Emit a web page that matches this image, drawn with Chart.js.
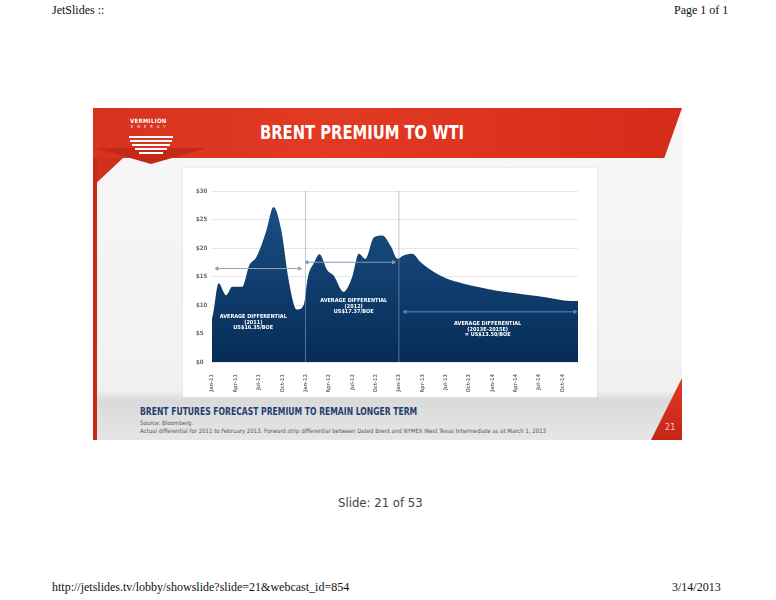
<!DOCTYPE html>
<html>
<head>
<meta charset="utf-8">
<title>Brent premium to WTI</title>
<script src="https://cdn.jsdelivr.net/npm/chart.js@4.4.1/dist/chart.umd.min.js"></script>
<style>
  body { margin: 0; width: 776px; height: 600px; background: #fff; position: relative; overflow: hidden; }
  .abs { position: absolute; }
  .page { font-family: "Liberation Serif", "DejaVu Serif", serif; font-size: 12px; color: #111; white-space: nowrap; }
  .slide { left: 93px; top: 108px; width: 589px; height: 332px; overflow: hidden;
           background: linear-gradient(#f7f7f7 0%, #f1f1f1 85%, #dadada 88%, #e6e6e6 100%); }
  .narrow { font-family: "Liberation Sans Narrow", "DejaVu Sans Condensed", "Open Sans", sans-serif; white-space: nowrap; transform-origin: 0 0; }
  #chartWrap { left: 190px; top: 180px; }
</style>
</head>
<body>

<div class="abs page" style="left:52px; top:3px;">JetSlides ::</div>
<div class="abs page" style="left:674px; top:3px;">Page 1 of 1</div>

<div class="abs slide">
  <!-- red header band with slanted right edge -->
  <div class="abs" style="left:0; top:0; width:589px; height:50px; background:linear-gradient(90deg,#d8321f,#e23a22 40%,#d52c1a); clip-path:polygon(0 0,100% 0,97% 100%,0 100%);"></div>
  <!-- left red strip and corner -->
  <div class="abs" style="left:0; top:50px; width:30px; height:24px; background:#d0301d; clip-path:polygon(0 0,100% 0,15% 100%,0 100%);"></div>
  <div class="abs" style="left:0; top:50px; width:4px; height:282px; background:#c52a19;"></div>
  <!-- chevron -->
  <div class="abs" style="left:2px; top:40px; width:112px; height:16px; background:#c22a18; clip-path:polygon(0 0,100% 0,50% 100%);"></div>
  <div class="abs" style="left:36px; top:28px; width:44px; height:2px; background:#fff;"></div>
  <div class="abs" style="left:37px; top:32px; width:42px; height:2px; background:#fff;"></div>
  <div class="abs" style="left:39px; top:36px; width:38px; height:2px; background:#fff;"></div>
  <div class="abs" style="left:42px; top:40px; width:32px; height:2px; background:#fff;"></div>
  <div class="abs" style="left:46px; top:44px; width:24px; height:2px; background:#fff;"></div>
  <div class="abs narrow" style="left:37px; top:9px; font-size:6px; color:#fff; letter-spacing:0.3px; font-weight:bold;">VERMILION</div>
  <div class="abs narrow" style="left:38px; top:16px; font-size:4px; color:#fff; letter-spacing:4px;">ENERGY</div>
  <div class="abs narrow" style="left:167px; top:12px; font-size:20px; color:#fff; font-weight:bold; transform:scaleX(0.82);">BRENT PREMIUM TO WTI</div>

  <!-- chart panel -->
  <div class="abs" style="left:90px; top:60px; width:414px; height:229px; background:#fff; box-shadow:0 0 2px #ddd;"></div>

  <!-- footer -->
  <div class="abs narrow" style="left:47px; top:298px; font-size:10px; color:#1d3f72; font-weight:bold; transform:scaleX(0.85);">BRENT FUTURES FORECAST PREMIUM TO REMAIN LONGER TERM</div>
  <div class="abs narrow" style="left:47px; top:311px; font-size:6px; color:#555;">Source: Bloomberg.</div>
  <div class="abs narrow" style="left:47px; top:319px; font-size:6px; color:#555;">Actual differential for 2011 to February 2013. Forward strip differential between Dated Brent and NYMEX West Texas Intermediate as at March 1, 2013</div>
  <div class="abs" style="left:558px; top:270px; width:31px; height:62px; background:linear-gradient(#e03a22,#c42616); clip-path:polygon(100% 0,100% 100%,0 100%);"></div>
  <div class="abs narrow" style="left:572px; top:314px; font-size:9px; color:#f6c9c0;">21</div>
</div>

<div id="chartWrap" class="abs"><canvas id="premiumChart" width="410" height="212"></canvas></div>

<div class="abs narrow" style="left:338px; top:495px; font-size:13px; color:#444;">Slide: 21 of 53</div>
<div class="abs page" style="left:52px; top:580px;">http://jetslides.tv/lobby/showslide?slide=21&amp;webcast_id=854</div>
<div class="abs page" style="left:672px; top:580px;">3/14/2013</div>

<script>
// Brent - WTI differential (US$/bbl), months since Jan 2011
const monthIdx = [0, 0.15, 0.85, 1.8, 2.6, 3.9, 4.8, 5.6, 6.1, 7.0, 7.9, 8.9, 9.85, 10.9, 11.8, 12.3, 13.1, 13.8, 14.8, 15.6, 16.9, 18.0, 18.85, 19.7, 20.8, 21.9, 23.0, 23.8, 24.6, 25.7, 26.8, 28.5, 30.2, 32.3, 34.5, 36.6, 38.8, 40.9, 43.0, 45.2, 47];
const premium  = [7.6, 8.5, 13.8, 11.7, 13.2, 13.2, 17.0, 18.2, 19.6, 23.1, 27.2, 23.1, 14.3, 9.2, 10.1, 14.8, 17.4, 18.9, 16.1, 15.2, 12.3, 14.9, 19.0, 18.1, 21.9, 22.2, 20.2, 18.1, 18.7, 19.0, 17.5, 15.8, 14.6, 13.75, 13.05, 12.5, 12.1, 11.7, 11.3, 10.8, 10.7];

const quarterLabels = ['Jan-11','Apr-11','Jul-11','Oct-11','Jan-12','Apr-12','Jul-12','Oct-12',
                       'Jan-13','Apr-13','Jul-13','Oct-13','Jan-14','Apr-14','Jul-14','Oct-14'];
const yTicks = [0, 5, 10, 15, 20, 25, 30];

// average differential markers
const avg2011 = [16.4, 16.4];
const avg2011X = [0.65, 11.25];
const avg2012 = [17.5, 17.5];
const avg2012X = [12.2, 23.3];
const avgFwd = [8.8, 8.8];
const avgFwdX = [24.8, 46.6];
const yearSplits = [12, 24];

const notes = [
  { x: 5.3,  y: 7.9,  lines: ['AVERAGE DIFFERENTIAL', '(2011)', 'US$16.35/BOE'] },
  { x: 18.2, y: 10.7, lines: ['AVERAGE DIFFERENTIAL', '(2012)', 'US$17.37/BOE'] },
  { x: 35.4, y: 6.7,  lines: ['AVERAGE DIFFERENTIAL', '(2013E-2015E)', '= US$13.50/BOE'] }
];

const fontNarrow = "'Liberation Sans Narrow', 'DejaVu Sans Condensed', 'Open Sans', sans-serif";

const toPts = (xs, ys) => xs.map((x, i) => ({ x: x, y: ys[i] }));

const arrowSet = (xs, ys, color) => ({
  type: 'line',
  data: toPts(xs, ys),
  borderColor: color,
  backgroundColor: color,
  borderWidth: 1,
  pointStyle: 'triangle',
  pointRadius: 2,
  pointRotation: [-90, 90],
  order: 0
});

const splitSet = (x) => ({
  type: 'line',
  data: [{ x: x, y: 0 }, { x: x, y: 30 }],
  borderColor: 'rgba(150,160,175,0.75)',
  borderWidth: 0.8,
  pointRadius: 0,
  order: 1
});

const noteLabels = {
  id: 'noteLabels',
  afterDatasetsDraw(chart) {
    const ctx = chart.ctx;
    const xs = chart.scales.x, ys = chart.scales.y;
    ctx.save();
    ctx.fillStyle = '#ffffff';
    ctx.textAlign = 'center';
    ctx.textBaseline = 'middle';
    ctx.font = 'bold 5.5px ' + fontNarrow;
    notes.forEach(n => {
      const px = xs.getPixelForValue(n.x);
      const py = ys.getPixelForValue(n.y);
      n.lines.forEach((t, i) => ctx.fillText(t, px, py + i * 5.5));
    });
    ctx.restore();
  }
};

new Chart(document.getElementById('premiumChart'), {
  type: 'line',
  data: {
    datasets: [
      arrowSet(avg2011X, avg2011, '#9aa3ad'),
      arrowSet(avg2012X, avg2012, '#7f9bbb'),
      arrowSet(avgFwdX, avgFwd, '#5c86b4'),
      splitSet(yearSplits[0]),
      splitSet(yearSplits[1]),
      {
        label: 'Brent premium to WTI',
        data: toPts(monthIdx, premium),
        fill: 'origin',
        borderWidth: 0,
        borderColor: '#0d3c6c',
        pointRadius: 0,
        cubicInterpolationMode: 'monotone',
        backgroundColor: (c) => {
          const a = c.chart.chartArea;
          if (!a) return '#0c3a6a';
          const g = c.chart.ctx.createLinearGradient(0, a.top, 0, a.bottom);
          g.addColorStop(0, '#1c5286');
          g.addColorStop(1, '#062c58');
          return g;
        },
        order: 10
      }
    ]
  },
  options: {
    responsive: false,
    animation: false,
    devicePixelRatio: 1,
    layout: { padding: { left: 6, top: 11, right: 22, bottom: 0 } },
    plugins: { legend: { display: false }, tooltip: { enabled: false } },
    scales: {
      x: {
        type: 'linear', min: 0, max: 47,
        grid: { display: false },
        border: { display: false },
        afterBuildTicks: (s) => { s.ticks = quarterLabels.map((l, i) => ({ value: i * 3 })); },
        afterFit: (s) => { s.height = 30; },
        ticks: {
          autoSkip: false, minRotation: 90, maxRotation: 90, padding: 4,
          color: '#777', font: { size: 5.5, family: fontNarrow, weight: 'bold' },
          callback: (v) => quarterLabels[Math.round(v / 3)]
        }
      },
      y: {
        min: 0, max: 30,
        afterBuildTicks: (s) => { s.ticks = yTicks.map(v => ({ value: v })); },
        afterFit: (s) => { s.width = 16; },
        grid: { color: '#e6e6e6', lineWidth: 1, drawTicks: false },
        border: { display: false },
        ticks: {
          crossAlign: 'far', padding: 0,
          color: '#666', font: { size: 6, family: fontNarrow, weight: 'bold' },
          callback: (v) => '$' + v
        }
      }
    }
  },
  plugins: [noteLabels]
});
</script>
</body>
</html>
